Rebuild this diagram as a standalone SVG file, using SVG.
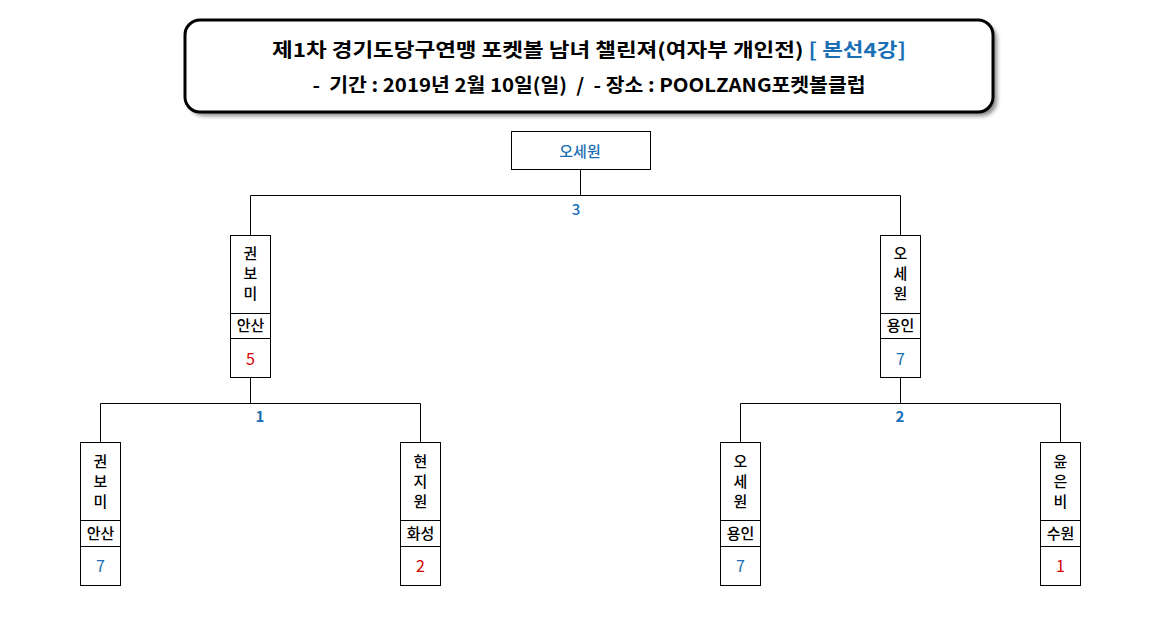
<svg xmlns="http://www.w3.org/2000/svg" width="1161" height="625" viewBox="0 0 1161 625">
<defs>
<filter id="sh" x="-5%" y="-20%" width="110%" height="140%"><feGaussianBlur stdDeviation="2"/></filter>
<style>
.box{fill:#fff;stroke:#000;stroke-width:1}
.ln{stroke:#000;stroke-width:1;fill:none}
.t{font-family:"Noto Sans CJK KR","Malgun Gothic",sans-serif;text-anchor:middle}
.nm{font-size:15px;fill:#000;font-weight:500}
.bl{fill:#1a6fb5}
.rd{fill:#d40000}
.num{font-size:16px}
.hd{font-weight:bold;font-size:19px}
</style>
</defs>
<rect width="1161" height="625" fill="#fff"/>
<g id="title">
<rect x="189" y="24" width="808" height="92" rx="15" fill="#888" filter="url(#sh)"/>
<rect x="185" y="20" width="808" height="92" rx="15" fill="#fff" stroke="#000" stroke-width="3"/>
<text class="t hd" x="589" y="57" textLength="634" lengthAdjust="spacingAndGlyphs">제1차 경기도당구연맹 포켓볼 남녀 챌린져(여자부 개인전) <tspan class="bl">[ 본선4강]</tspan></text>
<text class="t hd" x="589" y="92" font-size="18" textLength="553" lengthAdjust="spacingAndGlyphs" xml:space="preserve">-  기간 : 2019년 2월 10일(일)  /  - 장소 : POOLZANG포켓볼클럽</text>
</g>
<g id="connectors">
<path class="ln" d="M580.5 169V195.5M250.5 195.5H900.5M250.5 195.5V235M900.5 195.5V235"/>
<path class="ln" d="M250.5 377V403.5M100.5 403.5H420.5M100.5 403.5V442M420.5 403.5V442"/>
<path class="ln" d="M900.5 377V403.5M740.5 403.5H1060.5M740.5 403.5V442M1060.5 403.5V442"/>
<text class="t bl" x="576" y="215" font-size="15" font-weight="500">3</text>
<text class="t bl" x="260" y="422" font-size="15" font-weight="bold">1</text>
<text class="t bl" x="900" y="422" font-size="15" font-weight="bold">2</text>
</g>
<g id="final">
<rect class="box" x="511.5" y="131.5" width="139" height="38"/>
<text class="t bl" x="580" y="157" font-size="15" font-weight="500">오세원</text>
</g>
<g id="sf1">
<rect class="box" x="230.5" y="235.5" width="40" height="142"/>
<path class="ln" d="M230.5 313.5H270.5M230.5 338.5H270.5"/>
<text class="t nm" x="250.5" y="259">권</text>
<text class="t nm" x="250.5" y="279">보</text>
<text class="t nm" x="250.5" y="299">미</text>
<text class="t nm" x="250.5" y="331">안산</text>
<text class="t rd num" x="250.5" y="365">5</text>
</g>
<g id="sf2">
<rect class="box" x="880.5" y="235.5" width="40" height="142"/>
<path class="ln" d="M880.5 313.5H920.5M880.5 338.5H920.5"/>
<text class="t nm" x="900.5" y="259">오</text>
<text class="t nm" x="900.5" y="279">세</text>
<text class="t nm" x="900.5" y="299">원</text>
<text class="t nm" x="900.5" y="331">용인</text>
<text class="t bl num" x="900.5" y="365">7</text>
</g>
<g id="q1">
<rect class="box" x="80.5" y="442.5" width="40" height="143"/>
<path class="ln" d="M80.5 520.5H120.5M80.5 546.5H120.5"/>
<text class="t nm" x="100.5" y="467">권</text>
<text class="t nm" x="100.5" y="487">보</text>
<text class="t nm" x="100.5" y="507">미</text>
<text class="t nm" x="100.5" y="539">안산</text>
<text class="t bl num" x="100.5" y="572">7</text>
</g>
<g id="q2">
<rect class="box" x="400.5" y="442.5" width="40" height="143"/>
<path class="ln" d="M400.5 520.5H440.5M400.5 546.5H440.5"/>
<text class="t nm" x="420.5" y="467">현</text>
<text class="t nm" x="420.5" y="487">지</text>
<text class="t nm" x="420.5" y="507">원</text>
<text class="t nm" x="420.5" y="539">화성</text>
<text class="t rd num" x="420.5" y="572">2</text>
</g>
<g id="q3">
<rect class="box" x="720.5" y="442.5" width="40" height="143"/>
<path class="ln" d="M720.5 520.5H760.5M720.5 546.5H760.5"/>
<text class="t nm" x="740.5" y="467">오</text>
<text class="t nm" x="740.5" y="487">세</text>
<text class="t nm" x="740.5" y="507">원</text>
<text class="t nm" x="740.5" y="539">용인</text>
<text class="t bl num" x="740.5" y="572">7</text>
</g>
<g id="q4">
<rect class="box" x="1040.5" y="442.5" width="40" height="143"/>
<path class="ln" d="M1040.5 520.5H1080.5M1040.5 546.5H1080.5"/>
<text class="t nm" x="1060.5" y="467">윤</text>
<text class="t nm" x="1060.5" y="487">은</text>
<text class="t nm" x="1060.5" y="507">비</text>
<text class="t nm" x="1060.5" y="539">수원</text>
<text class="t rd num" x="1060.5" y="572">1</text>
</g>
</svg>
